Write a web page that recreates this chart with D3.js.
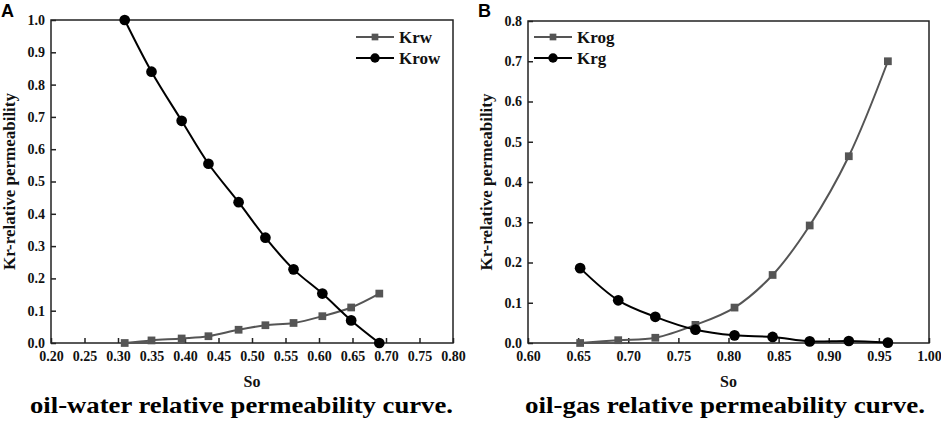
<!DOCTYPE html>
<html>
<head>
<meta charset="utf-8">
<script src="https://cdn.jsdelivr.net/npm/d3@7"></script>
<style>
  body { margin: 0; background: #fff; }
  svg { display: block; }
</style>
</head>
<body>
<svg id="chart" width="941" height="421"></svg>
<script>
// panel A: oil-water
const soA = [0.31, 0.35, 0.395, 0.435, 0.48, 0.52, 0.562, 0.605, 0.648, 0.69];
const krw = [0.0, 0.008, 0.014, 0.021, 0.041, 0.055, 0.062, 0.083, 0.110, 0.153];
const krow = [1.0, 0.84, 0.688, 0.555, 0.436, 0.326, 0.228, 0.153, 0.070, 0.0];
const xTicksA = [0.20, 0.25, 0.30, 0.35, 0.40, 0.45, 0.50, 0.55, 0.60, 0.65, 0.70, 0.75, 0.80];
const yTicksA = [0, 0.1, 0.2, 0.3, 0.4, 0.5, 0.6, 0.7, 0.8, 0.9, 1.0];

// panel B: oil-gas
const soB = [0.652, 0.690, 0.727, 0.767, 0.806, 0.844, 0.881, 0.920, 0.959];
const krog = [0.0, 0.007, 0.013, 0.045, 0.088, 0.169, 0.292, 0.464, 0.700];
const krg = [0.186, 0.106, 0.065, 0.033, 0.019, 0.015, 0.004, 0.005, 0.001];
const xTicksB = [0.60, 0.65, 0.70, 0.75, 0.80, 0.85, 0.90, 0.95, 1.00];
const yTicksB = [0, 0.1, 0.2, 0.3, 0.4, 0.5, 0.6, 0.7, 0.8];

const serif = '"Liberation Serif", "Times New Roman", serif';
const svg = d3.select('#chart');

function panel(opt) {
    const g = svg.append('g').attr('font-family', serif).attr('font-weight', 'bold');
    const x = d3.scaleLinear().domain(opt.xDomain).range([opt.left, opt.right]);
    const y = d3.scaleLinear().domain(opt.yDomain).range([opt.bottom, opt.top]);

    // axes, ticks pointing inward
    g.append('g')
        .attr('transform', `translate(0,${opt.bottom})`)
        .call(d3.axisBottom(x).tickValues(opt.xTicks).tickFormat(d3.format('.2f')).tickSizeInner(-5).tickSizeOuter(0).tickPadding(8));
    g.append('g')
        .attr('transform', `translate(${opt.left},0)`)
        .call(d3.axisLeft(y).tickValues(opt.yTicks).tickFormat(d3.format('.1f')).tickSizeInner(-5).tickSizeOuter(0).tickPadding(6));
    g.selectAll('.tick text').attr('font-size', 14).attr('fill', '#111')
        .attr('font-family', serif).attr('font-weight', 'bold');
    g.selectAll('.tick line').attr('stroke', '#222').attr('stroke-width', 1.5);
    g.selectAll('.domain').remove();

    g.append('rect')
        .attr('x', opt.left).attr('y', opt.top)
        .attr('width', opt.right - opt.left).attr('height', opt.bottom - opt.top)
        .attr('fill', 'none').attr('stroke', '#222').attr('stroke-width', 1.5);

    const line = d3.line().x(d => x(d[0])).y(d => y(d[1])).curve(d3.curveCatmullRom.alpha(0.5));

    opt.series.forEach(s => {
        const pts = opt.xs.map((v, i) => [v, s.values[i]]);
        g.append('path').datum(pts)
            .attr('d', line).attr('fill', 'none')
            .attr('stroke', s.color).attr('stroke-width', 2);
        const sym = d3.symbol().type(s.shape === 'square' ? d3.symbolSquare : d3.symbolCircle)
            .size(s.shape === 'square' ? 60 : 90);
        g.selectAll(null).data(pts).join('path')
            .attr('transform', d => `translate(${x(d[0])},${y(d[1])})`)
            .attr('d', sym).attr('fill', s.color);
    });

    // legend
    opt.series.forEach((s, i) => {
        const ly = opt.legend[1] + i * 21;
        g.append('line').attr('x1', opt.legend[0]).attr('x2', opt.legend[0] + 38)
            .attr('y1', ly).attr('y2', ly).attr('stroke', s.color).attr('stroke-width', 2);
        const sym = d3.symbol().type(s.shape === 'square' ? d3.symbolSquare : d3.symbolCircle)
            .size(s.shape === 'square' ? 45 : 70);
        g.append('path').attr('transform', `translate(${opt.legend[0] + 19},${ly})`)
            .attr('d', sym).attr('fill', s.color);
        g.append('text').attr('x', opt.legend[0] + 43).attr('y', ly + 6)
            .attr('font-size', 17).attr('fill', '#111').text(s.name);
    });

    // labels
    const cx = (opt.left + opt.right) / 2;
    g.append('text').attr('x', cx).attr('y', 387).attr('text-anchor', 'middle')
        .attr('font-size', 16).attr('fill', '#111').text('So');
    g.append('text').attr('x', opt.titleX).attr('y', 413)
        .attr('font-size', 24).attr('fill', '#000')
        .attr('textLength', opt.titleW).attr('lengthAdjust', 'spacingAndGlyphs')
        .text(opt.title);
    g.append('text')
        .attr('transform', `translate(${opt.left - 36},${(opt.top + opt.bottom) / 2}) rotate(-90)`)
        .attr('text-anchor', 'middle').attr('font-size', 17).attr('fill', '#111')
        .text('Kr-relative permeability');
    g.append('text').attr('x', opt.left - 50).attr('y', 17)
        .attr('font-family', '"Liberation Sans", Arial, sans-serif').attr('font-size', 18)
        .attr('fill', '#000').text(opt.letter);
}

panel({
    letter: 'A', left: 51, right: 453, top: 20, bottom: 343,
    xDomain: [0.2, 0.8], yDomain: [0, 1], xTicks: xTicksA, yTicks: yTicksA,
    xs: soA,
    series: [
        { name: 'Krw', values: krw, color: '#555', shape: 'square' },
        { name: 'Krow', values: krow, color: '#000', shape: 'circle' }
    ],
    legend: [356, 37],
    title: 'oil-water relative permeability curve.', titleX: 30, titleW: 423
});

panel({
    letter: 'B', left: 528, right: 929, top: 21, bottom: 343,
    xDomain: [0.6, 1.0], yDomain: [0, 0.8], xTicks: xTicksB, yTicks: yTicksB,
    xs: soB,
    series: [
        { name: 'Krog', values: krog, color: '#555', shape: 'square' },
        { name: 'Krg', values: krg, color: '#000', shape: 'circle' }
    ],
    legend: [534, 37],
    title: 'oil-gas relative permeability curve.', titleX: 525, titleW: 400
});
</script>
</body>
</html>
